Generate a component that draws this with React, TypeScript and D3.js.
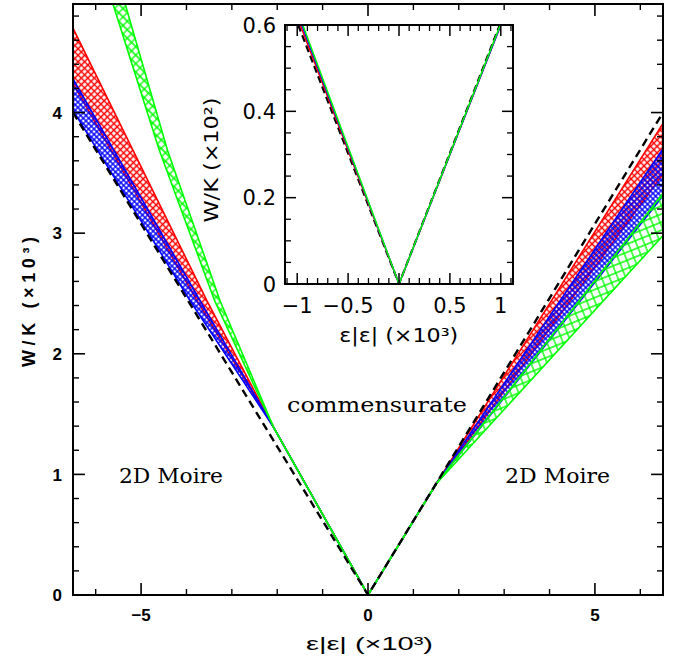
import React from 'react';
import * as d3 from 'd3';

type P = [number, number];

// ---------- main panel ticks ----------
const xMajorTicks = [-5, 0, 5];
const xMinorTicks = [-6, -4, -3, -2, -1, 1, 2, 3, 4, 6];
const yMajorTicks = [0, 1, 2, 3, 4];
const yMinorTicks = [0.2, 0.4, 0.6, 0.8, 1.2, 1.4, 1.6, 1.8, 2.2, 2.4, 2.6, 2.8, 3.2, 3.4, 3.6, 3.8, 4.2, 4.4, 4.6, 4.8];

// ---------- main panel bands (x = eps|eps| x1e3, W/K x1e3) ----------
const redLeftUpper: P[] = [[0, 0], [-2.08, 1.39], [-3.55, 2.44], [-6.5, 4.70]];
const redLeftLower: P[] = [[0, 0], [-2.08, 1.39], [-3.77, 2.44], [-6.5, 4.24]];
const blueLeftUpper: P[] = [[0, 0], [-2.08, 1.39], [-3.70, 2.44], [-6.5, 4.28]];
const blueLeftLower: P[] = [[0, 0], [-2.08, 1.39], [-3.92, 2.44], [-6.5, 4.02]];
const greenLeftUpper: P[] = [[0, 0], [-2.08, 1.39], [-3.26, 2.44], [-4.42, 3.69], [-5.35, 4.9], [-6.5, 6.3]];
const greenLeftLower: P[] = [[0, 0], [-2.08, 1.39], [-3.38, 2.44], [-4.60, 3.69], [-5.62, 4.9], [-6.5, 6.0]];

const redRightUpper: P[] = [[0, 0], [1.5, 0.92], [6.5, 3.91]];
const redRightLower: P[] = [[0, 0], [1.5, 0.92], [6.5, 3.49]];
const blueRightUpper: P[] = [[0, 0], [1.5, 0.92], [6.5, 3.70]];
const blueRightLower: P[] = [[0, 0], [1.5, 0.92], [6.5, 3.31]];
const greenRightUpper: P[] = [[0, 0], [1.5, 0.92], [6.5, 3.33]];
const greenRightLower: P[] = [[0, 0], [1.5, 0.92], [6.5, 2.98]];

const dashedMain: P[] = [[-6.5, 4.0], [0, 0], [6.5, 4.0]];

// ---------- inset ----------
const insetXMajor = [-1, -0.5, 0, 0.5, 1];
const insetXMajorLabels = ['\u22121', '\u22120.5', '0', '0.5', '1'];
const insetXMinor = [-1.1, -0.9, -0.8, -0.7, -0.6, -0.4, -0.3, -0.2, -0.1, 0.1, 0.2, 0.3, 0.4, 0.6, 0.7, 0.8, 0.9, 1.1];
const insetYMajor = [0, 0.2, 0.4, 0.6];
const insetYMajorLabels = ['0', '0.2', '0.4', '0.6'];
const insetYMinor = [0.05, 0.1, 0.15, 0.25, 0.3, 0.35, 0.45, 0.5, 0.55];

const insetDashed: P[] = [[-0.99, 0.6], [0, 0], [0.99, 0.6]];
const insetRed: P[] = [[-0.97, 0.6], [0, 0], [1.0, 0.6]];
const insetBlue: P[] = [[-0.955, 0.6], [0, 0], [1.0, 0.6]];
const insetGreen: P[] = [[-0.945, 0.6], [0, 0], [0.995, 0.6]];

const RED = '#ff0000';
const BLUE = '#0000ff';
const GREEN = '#00ff00';

export default function App() {
  const W = 673, H = 659;
  const x = d3.scaleLinear().domain([-6.5, 6.5]).range([73, 663]);
  const y = d3.scaleLinear().domain([0, 4.9]).range([595, 4]);
  const line = d3.line<P>().x(d => x(d[0])).y(d => y(d[1]));

  const ix = d3.scaleLinear().domain([-1.12, 1.12]).range([285, 513]);
  const iy = d3.scaleLinear().domain([0, 0.6]).range([284, 25]);
  const iline = d3.line<P>().x(d => ix(d[0])).y(d => iy(d[1]));

  const band = (up: P[], lo: P[]) => line([...up, ...lo.slice().reverse()]) + 'Z';

  const bands = [
    { up: redLeftUpper, lo: redLeftLower, color: RED, pat: 'url(#hRed)' },
    { up: redRightUpper, lo: redRightLower, color: RED, pat: 'url(#hRed)' },
    { up: blueLeftUpper, lo: blueLeftLower, color: BLUE, pat: 'url(#hBlue)' },
    { up: blueRightUpper, lo: blueRightLower, color: BLUE, pat: 'url(#hBlue)' },
    { up: greenLeftUpper, lo: greenLeftLower, color: GREEN, pat: 'url(#hGreenL)' },
    { up: greenRightUpper, lo: greenRightLower, color: GREEN, pat: 'url(#hGreenR)' },
  ];

  const [x0, x1] = x.range();
  const [y0, y1] = y.range();
  const [ix0, ix1] = ix.range();
  const [iy0, iy1] = iy.range();

  return (
    <svg width={W} height={H} style={{ position: 'absolute', left: 0, top: 0, background: '#fff' }}>
      <defs>
        <clipPath id="mainClip"><rect x={x0} y={y1} width={x1 - x0} height={y0 - y1} /></clipPath>
        <clipPath id="insetClip"><rect x={ix0} y={iy1} width={ix1 - ix0} height={iy0 - iy1} /></clipPath>
        <pattern id="hRed" width="4.6" height="4.6" patternUnits="userSpaceOnUse" patternTransform="rotate(45)">
          <path d="M2.3,0 V4.6 M0,2.3 H4.6" stroke={RED} strokeWidth="1.5" />
        </pattern>
        <pattern id="hBlue" width="3.8" height="3.8" patternUnits="userSpaceOnUse" patternTransform="rotate(45)">
          <path d="M1.9,0 V3.8 M0,1.9 H3.8" stroke={BLUE} strokeWidth="1.3" />
        </pattern>
        <pattern id="hGreenL" width="6" height="6" patternUnits="userSpaceOnUse" patternTransform="rotate(45)">
          <path d="M3,0 V6 M0,3 H6" stroke={GREEN} strokeWidth="1.3" />
        </pattern>
        <pattern id="hGreenR" width="7.5" height="7.5" patternUnits="userSpaceOnUse" patternTransform="rotate(-22)">
          <path d="M3.75,0 V7.5 M0,3.75 H7.5" stroke={GREEN} strokeWidth="1.3" />
        </pattern>
      </defs>

      {/* bands */}
      <g clipPath="url(#mainClip)">
        {bands.map((b, i) => (
          <g key={i}>
            <path d={band(b.up, b.lo)} fill={b.pat} stroke="none" />
            <path d={line(b.up) || ''} fill="none" stroke={b.color} strokeWidth={1.6} />
            <path d={line(b.lo) || ''} fill="none" stroke={b.color} strokeWidth={1.6} />
          </g>
        ))}
        <path d={line(dashedMain) || ''} fill="none" stroke="#000" strokeWidth={2.4} strokeDasharray="8,5" />
      </g>

      {/* main frame */}
      <rect x={x0} y={y1} width={x1 - x0} height={y0 - y1} fill="none" stroke="#000" strokeWidth={2} />
      {xMajorTicks.map(t => (
        <g key={'xM' + t}>
          <line x1={x(t)} x2={x(t)} y1={y0} y2={y0 - 12} stroke="#000" strokeWidth={1.6} />
          <line x1={x(t)} x2={x(t)} y1={y1} y2={y1 + 12} stroke="#000" strokeWidth={1.6} />
          <text x={x(t)} y={621} textAnchor="middle" fontFamily="Liberation Sans, Arial, sans-serif" fontWeight="bold" fontSize={17}>{t < 0 ? '\u2212' + Math.abs(t) : t}</text>
        </g>
      ))}
      {xMinorTicks.map(t => (
        <g key={'xm' + t}>
          <line x1={x(t)} x2={x(t)} y1={y0} y2={y0 - 6} stroke="#000" strokeWidth={1.4} />
          <line x1={x(t)} x2={x(t)} y1={y1} y2={y1 + 6} stroke="#000" strokeWidth={1.4} />
        </g>
      ))}
      {yMajorTicks.map(t => (
        <g key={'yM' + t}>
          <line x1={x0} x2={x0 + 12} y1={y(t)} y2={y(t)} stroke="#000" strokeWidth={1.6} />
          <line x1={x1} x2={x1 - 12} y1={y(t)} y2={y(t)} stroke="#000" strokeWidth={1.6} />
          <text x={62} y={y(t)} dy="0.36em" textAnchor="end" fontFamily="Liberation Sans, Arial, sans-serif" fontWeight="bold" fontSize={17}>{t}</text>
        </g>
      ))}
      {yMinorTicks.map(t => (
        <g key={'ym' + t}>
          <line x1={x0} x2={x0 + 6} y1={y(t)} y2={y(t)} stroke="#000" strokeWidth={1.4} />
          <line x1={x1} x2={x1 - 6} y1={y(t)} y2={y(t)} stroke="#000" strokeWidth={1.4} />
        </g>
      ))}
      <text x={369.5} y={650} textAnchor="middle" fontFamily="Liberation Sans, Arial, sans-serif" fontSize={19} textLength={127} lengthAdjust="spacingAndGlyphs">{'\u03b5|\u03b5| (\u00d710\u00b3)'}</text>
      <text transform="translate(35,302) rotate(-90)" textAnchor="middle" fontFamily="Liberation Sans, Arial, sans-serif" fontWeight="bold" fontSize={18} textLength={130} lengthAdjust="spacing">{'W/K (\u00d710\u00b3)'}</text>

      {/* region labels */}
      <text x={119} y={483} fontFamily="DejaVu Serif, serif" fontSize={21} textLength={104} lengthAdjust="spacingAndGlyphs">2D Moire</text>
      <text x={505} y={483} fontFamily="DejaVu Serif, serif" fontSize={21} textLength={105} lengthAdjust="spacingAndGlyphs">2D Moire</text>
      <text x={287} y={412} fontFamily="DejaVu Serif, serif" fontSize={21} textLength={180} lengthAdjust="spacingAndGlyphs">commensurate</text>

      {/* inset */}
      <rect x={ix0} y={iy1} width={ix1 - ix0} height={iy0 - iy1} fill="#fff" />
      <g clipPath="url(#insetClip)">
        <path d={iline(insetDashed) || ''} fill="none" stroke="#000" strokeWidth={2.2} strokeDasharray="7,4" />
        <path d={iline(insetRed) || ''} fill="none" stroke={RED} strokeWidth={1.5} />
        <path d={iline(insetBlue) || ''} fill="none" stroke={BLUE} strokeWidth={1.5} />
        <path d={iline(insetGreen) || ''} fill="none" stroke={GREEN} strokeWidth={1.5} />
      </g>
      <rect x={ix0} y={iy1} width={ix1 - ix0} height={iy0 - iy1} fill="none" stroke="#000" strokeWidth={2} />
      {insetXMajor.map((t, i) => (
        <g key={'ixM' + t}>
          <line x1={ix(t)} x2={ix(t)} y1={iy0} y2={iy0 - 11} stroke="#000" strokeWidth={1.5} />
          <line x1={ix(t)} x2={ix(t)} y1={iy1} y2={iy1 + 11} stroke="#000" strokeWidth={1.5} />
          <text x={ix(t)} y={313} textAnchor="middle" fontFamily="DejaVu Sans, sans-serif" fontSize={21}>{insetXMajorLabels[i]}</text>
        </g>
      ))}
      {insetXMinor.map(t => (
        <g key={'ixm' + t}>
          <line x1={ix(t)} x2={ix(t)} y1={iy0} y2={iy0 - 6} stroke="#000" strokeWidth={1.3} />
          <line x1={ix(t)} x2={ix(t)} y1={iy1} y2={iy1 + 6} stroke="#000" strokeWidth={1.3} />
        </g>
      ))}
      {insetYMajor.map((t, i) => (
        <g key={'iyM' + t}>
          <line x1={ix0} x2={ix0 + 11} y1={iy(t)} y2={iy(t)} stroke="#000" strokeWidth={1.5} />
          <line x1={ix1} x2={ix1 - 11} y1={iy(t)} y2={iy(t)} stroke="#000" strokeWidth={1.5} />
          <text x={276} y={iy(t)} dy="0.36em" textAnchor="end" fontFamily="DejaVu Sans, sans-serif" fontSize={21}>{insetYMajorLabels[i]}</text>
        </g>
      ))}
      {insetYMinor.map(t => (
        <g key={'iym' + t}>
          <line x1={ix0} x2={ix0 + 6} y1={iy(t)} y2={iy(t)} stroke="#000" strokeWidth={1.3} />
          <line x1={ix1} x2={ix1 - 6} y1={iy(t)} y2={iy(t)} stroke="#000" strokeWidth={1.3} />
        </g>
      ))}
      <text x={398.7} y={342} textAnchor="middle" fontFamily="DejaVu Sans, sans-serif" fontSize={19} textLength={119} lengthAdjust="spacingAndGlyphs">{'\u03b5|\u03b5| (\u00d710\u00b3)'}</text>
      <text transform="translate(218,160) rotate(-90)" textAnchor="middle" fontFamily="DejaVu Sans, sans-serif" fontSize={19} textLength={125} lengthAdjust="spacingAndGlyphs">{'W/K (\u00d710\u00b2)'}</text>
    </svg>
  );
}
